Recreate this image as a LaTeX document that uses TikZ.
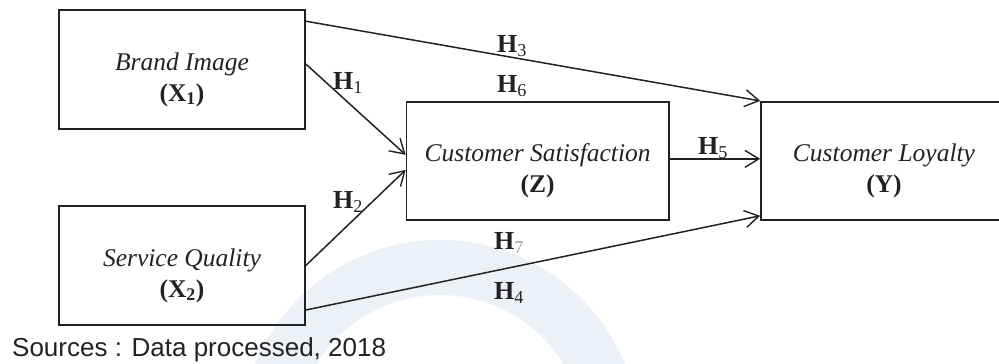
\documentclass[tikz,border=0pt]{standalone}
\usepackage{fontspec}
\setmainfont{Liberation Serif}
\newfontfamily\srcfont{Liberation Sans}
\usetikzlibrary{arrows.meta,calc}
\definecolor{ink}{HTML}{222222}
\definecolor{wm}{HTML}{ECF0F7}
\tikzset{
  var/.style={draw=ink, line width=1.6pt, rectangle, inner sep=0pt},
  vartext/.style={align=center, font=\fontsize{25.5}{31}\selectfont\itshape, text=ink, inner sep=0pt},
  link/.style={draw=ink, line width=1.5pt, -{Straight Barb[length=14pt,width=17pt,line width=1.4pt]}},
  hyp/.style={font=\fontsize{26}{30}\selectfont\bfseries, text=ink, inner sep=0pt},
}
\newcommand{\hsub}[1]{H\textsubscript{\mdseries #1}}
\begin{document}
\begin{tikzpicture}[x=1pt,y=-1pt]
\useasboundingbox (0,0) rectangle (999,364);
% faint circular mark in the background
\begin{scope}
  \clip (0,0) rectangle (999,364);
  \fill[wm, even odd rule] (440,440) circle (200pt) (440,440) circle (145pt);
\end{scope}

% variables
\node[var, minimum width=246pt, minimum height=119pt] (X1) at (182,69.5) {};
\node[var, minimum width=246pt, minimum height=119pt] (X2) at (182,265.5) {};
\node[var, minimum width=262.2pt, minimum height=118.3pt] (Z) at (537.6,160.85) {};
\node[var, minimum width=246pt, minimum height=118.3pt] (Y) at (884,160.85) {};

\node[vartext] (X1t) at ($(X1.center)+(0,10)$) {Brand Image\\\textbf{\upshape (X\textsubscript{1})}};
\node[vartext] (X2t) at ($(X2.center)+(0,10)$) {Service Quality\\\textbf{\upshape (X\textsubscript{2})}};
\node[vartext] (Zt) at ($(Z.center)+(0,10)$) {Customer Satisfaction\\\textbf{\upshape (Z)}};
\node[vartext] (Yt) at ($(Y.center)+(0,10)$) {Customer Loyalty\\\textbf{\upshape (Y)}};

% paths
\draw[link] ($(X1.north east)+(0,12)$) -- (Y.north west);
\draw[link] ($(X1.east)+(0,-5.5)$) -- ($(Z.west)+(0,-6)$);
\draw[link] (X2.east) -- ($(Z.west)+(0,9)$);
\draw[link] ($(X2.east)+(0,44.5)$) -- ($(Y.south west)+(0,-5)$);
\draw[link] ($(Z.east)+(0,-2)$) -- ($(Y.west)+(0,-2)$);

% hypothesis labels
\node[hyp] (h3) at (512,46) {\hsub{3}};
\node[hyp] (h6) at (512,86) {\hsub{6}};
\node[hyp] (h1) at (348,83) {\hsub{1}};
\node[hyp] (h2) at (348,202) {\hsub{2}};
\node[hyp] (h5) at (713,148) {\hsub{5}};
\node[hyp] (h7) at (509,243) {H\textsubscript{\mdseries\color{black!40}7}};
\node[hyp] (h4) at (509,293) {\hsub{4}};

\node[anchor=base west, font=\srcfont\fontsize{26}{30}\selectfont, text=ink, inner sep=0pt] (src) at (12,356) {Sources : Data processed, 2018};
\end{tikzpicture}
\end{document}
